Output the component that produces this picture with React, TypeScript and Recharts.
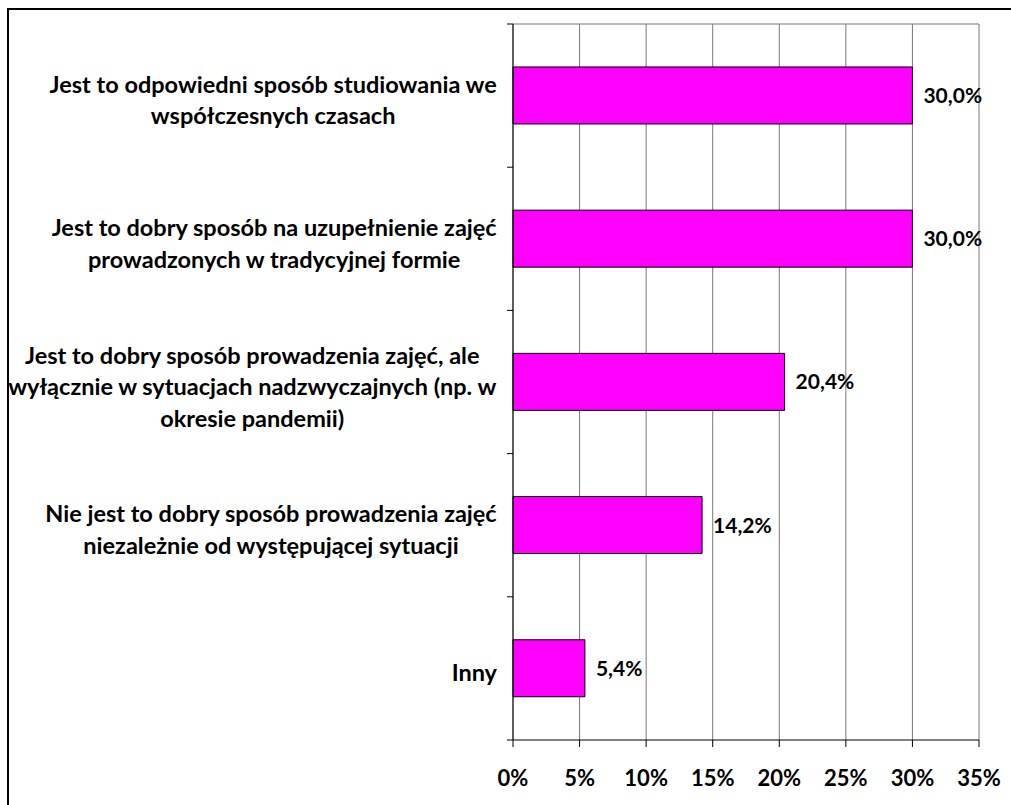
import { BarChart, Bar, XAxis, YAxis, CartesianGrid, LabelList } from "recharts";

const categories = [
  "Jest to odpowiedni sposób studiowania we\nwspółczesnych czasach",
  "Jest to dobry sposób na uzupełnienie zajęć\nprowadzonych w tradycyjnej formie",
  "Jest to dobry sposób prowadzenia zajęć, ale\nwyłącznie w sytuacjach nadzwyczajnych (np. w\nokresie pandemii)",
  "Nie jest to dobry sposób prowadzenia zajęć\nniezależnie od występującej sytuacji",
  "Inny",
];
const values = [30.0, 30.0, 20.4, 14.2, 5.4];
const xTicks = [0, 5, 10, 15, 20, 25, 30, 35];

const FONT = "Lato, 'Open Sans', sans-serif";
const LABEL_SIZE = 23.5;
const LINE_H = 31.5;

const W = 1011;
const H = 805;
const M = { top: 24, right: 32, bottom: 0, left: 8 };
const X_AXIS_H = 65;
const Y_AXIS_W = 505;
const PLOT_TOP = M.top;
const PLOT_BOTTOM = H - M.bottom - X_AXIS_H;

const data = categories.map((c, i) => ({ label: c, value: values[i] }));

const pct = (v: number) => `${v.toFixed(1).replace(".", ",")}%`;

// szerokość tekstu, żeby wyśrodkować linie w bloku wyrównanym do prawej
let ctx: CanvasRenderingContext2D | null = null;
const measure = (s: string) => {
  if (!ctx) ctx = document.createElement("canvas").getContext("2d");
  if (!ctx) return s.length * 11;
  ctx.font = `bold ${LABEL_SIZE}px ${FONT}`;
  return ctx.measureText(s).width;
};

const CategoryTick = (props: any) => {
  const { x, y, payload, index } = props;
  const axisX = x + 16;
  const band = (PLOT_BOTTOM - PLOT_TOP) / categories.length;
  const lines = String(payload.value).split("\n");
  const blockW = Math.max(...lines.map(measure));
  const cx = x - blockW / 2;
  const startY = y + 4 - ((lines.length - 1) * LINE_H) / 2;
  return (
    <g>
      <line x1={axisX - 6} x2={axisX} y1={y - band / 2} y2={y - band / 2} stroke="#000" />
      {index === categories.length - 1 && (
        <line x1={axisX - 6} x2={axisX} y1={y + band / 2} y2={y + band / 2} stroke="#000" />
      )}
      {lines.map((l, i) => (
        <text
          key={i}
          x={cx}
          y={startY + i * LINE_H}
          textAnchor="middle"
          dominantBaseline="central"
          fontFamily={FONT}
          fontSize={LABEL_SIZE}
          fontWeight={700}
          fill="#000"
        >
          {l}
        </text>
      ))}
    </g>
  );
};

export default function App() {
  return (
    <div style={{ position: "fixed", left: 0, top: 0, width: W, height: H, overflow: "hidden", background: "#fff" }}>
      <div
        style={{
          position: "absolute",
          left: 7,
          top: 8,
          width: W + 20,
          height: H + 20,
          borderLeft: "2px solid #000",
          borderTop: "2px solid #000",
        }}
      />
      <div style={{ position: "absolute", left: 0, top: 0 }}>
        <BarChart width={W} height={H} data={data} layout="vertical" margin={M} barCategoryGap="30%">
          <CartesianGrid
            stroke="#777"
            vertical
            horizontal
            horizontalCoordinatesGenerator={({ offset }: any) => [offset.top]}
          />
          <XAxis
            type="number"
            domain={[0, 35]}
            ticks={xTicks}
            interval={0}
            height={X_AXIS_H}
            axisLine={{ stroke: "#000" }}
            tickLine={{ stroke: "#000" }}
            tickSize={7}
            tickMargin={23}
            tickFormatter={(v: number) => `${v}%`}
            tick={{ fill: "#000", fontFamily: FONT, fontSize: 22, fontWeight: 700 }}
          />
          <YAxis
            type="category"
            dataKey="label"
            width={Y_AXIS_W}
            interval={0}
            axisLine={{ stroke: "#000" }}
            tickLine={false}
            tickSize={6}
            tickMargin={10}
            tick={<CategoryTick />}
          />
          <Bar dataKey="value" fill="#FF00FF" stroke="#000" strokeWidth={1} isAnimationActive={false}>
            <LabelList
              dataKey="value"
              position="right"
              offset={11}
              formatter={(v: any) => pct(Number(v))}
              fill="#000"
              fontFamily={FONT}
              fontSize={21}
              fontWeight={700}
            />
          </Bar>
        </BarChart>
      </div>
    </div>
  );
}
